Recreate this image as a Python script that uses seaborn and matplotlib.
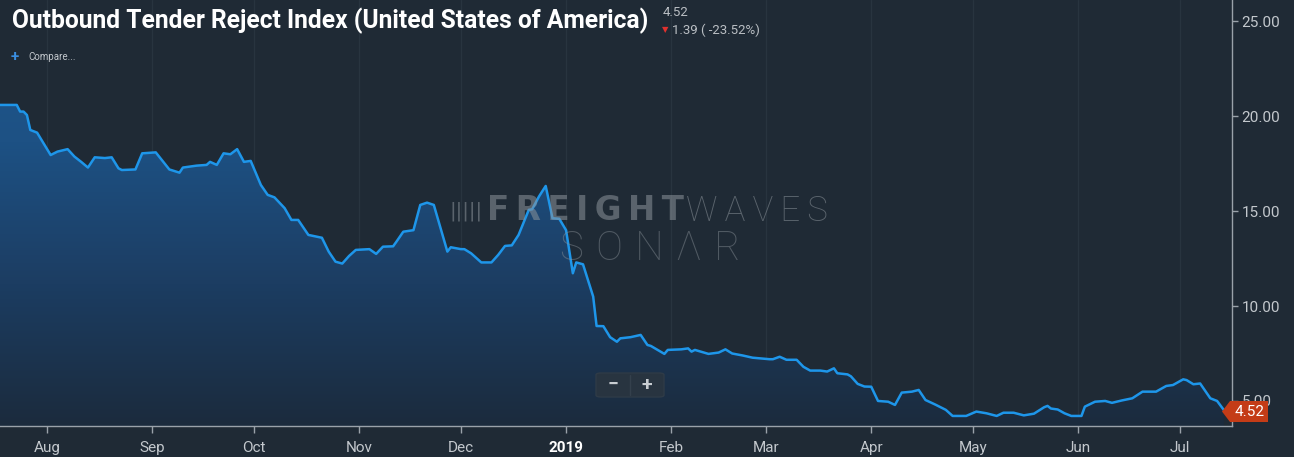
import numpy as np
import pandas as pd
import matplotlib
matplotlib.use("Agg")
import matplotlib.pyplot as plt
from matplotlib.colors import LinearSegmentedColormap
from matplotlib.patches import Polygon, FancyBboxPatch
import seaborn as sns

# values (SONAR OTRI, USA)
dates = [
    "2018-07-18", "2018-07-23", "2018-07-24", "2018-07-25", "2018-07-26", "2018-07-27",
    "2018-07-29", "2018-08-02", "2018-08-04", "2018-08-07", "2018-08-09", "2018-08-11",
    "2018-08-13", "2018-08-15", "2018-08-18", "2018-08-20", "2018-08-22", "2018-08-23",
    "2018-08-27", "2018-08-29", "2018-09-02", "2018-09-06", "2018-09-09", "2018-09-10",
    "2018-09-14", "2018-09-17", "2018-09-18", "2018-09-20", "2018-09-22", "2018-09-24",
    "2018-09-26", "2018-09-28", "2018-09-30", "2018-10-03", "2018-10-05", "2018-10-07",
    "2018-10-10", "2018-10-12", "2018-10-14", "2018-10-17", "2018-10-21", "2018-10-23",
    "2018-10-25", "2018-10-27", "2018-10-29", "2018-10-31", "2018-11-04", "2018-11-06",
    "2018-11-08", "2018-11-11", "2018-11-12", "2018-11-14", "2018-11-17", "2018-11-19",
    "2018-11-21", "2018-11-23", "2018-11-27", "2018-11-28", "2018-12-01", "2018-12-02",
    "2018-12-04", "2018-12-07", "2018-12-10", "2018-12-12", "2018-12-14", "2018-12-16",
    "2018-12-18", "2018-12-21", "2018-12-22", "2018-12-24", "2018-12-26", "2018-12-28",
    "2018-12-30", "2019-01-01", "2019-01-03", "2019-01-04", "2019-01-06", "2019-01-09",
    "2019-01-10", "2019-01-12", "2019-01-14", "2019-01-16", "2019-01-17", "2019-01-20",
    "2019-01-23", "2019-01-25", "2019-01-26", "2019-01-30", "2019-01-31", "2019-02-04",
    "2019-02-06", "2019-02-07", "2019-02-08", "2019-02-12", "2019-02-15", "2019-02-17",
    "2019-02-19", "2019-02-22", "2019-02-25", "2019-03-02", "2019-03-03", "2019-03-05",
    "2019-03-07", "2019-03-10", "2019-03-12", "2019-03-14", "2019-03-17", "2019-03-19",
    "2019-03-21", "2019-03-22", "2019-03-25", "2019-03-26", "2019-03-28", "2019-03-30",
    "2019-04-01", "2019-04-03", "2019-04-06", "2019-04-08", "2019-04-10", "2019-04-13",
    "2019-04-15", "2019-04-17", "2019-04-19", "2019-04-20", "2019-04-23", "2019-04-25",
    "2019-04-29", "2019-05-02", "2019-05-05", "2019-05-08", "2019-05-10", "2019-05-13",
    "2019-05-16", "2019-05-19", "2019-05-22", "2019-05-23", "2019-05-24", "2019-05-26",
    "2019-05-28", "2019-05-30", "2019-06-02", "2019-06-03", "2019-06-06", "2019-06-09",
    "2019-06-11", "2019-06-14", "2019-06-17", "2019-06-20", "2019-06-24", "2019-06-27",
    "2019-06-29", "2019-07-02", "2019-07-03", "2019-07-05", "2019-07-07", "2019-07-10",
    "2019-07-12", "2019-07-14",
]
otri = [
    20.6, 20.6, 20.25, 20.25, 20.07, 19.28,
    19.14, 17.96, 18.14, 18.27, 17.88, 17.6,
    17.3, 17.84, 17.8, 17.84, 17.26, 17.17,
    17.2, 18.05, 18.1, 17.2, 17.03, 17.3,
    17.4, 17.44, 17.6, 17.44, 18.05, 18.0,
    18.27, 17.6, 17.65, 16.38, 15.86, 15.73,
    15.16, 14.54, 14.54, 13.75, 13.6, 12.87,
    12.34, 12.24, 12.64, 12.96, 13.0, 12.75,
    13.13, 13.15, 13.4, 13.92, 14.0, 15.33,
    15.45, 15.33, 12.87, 13.1, 13.0, 13.0,
    12.78, 12.3, 12.3, 12.7, 13.17, 13.2,
    13.75, 15.07, 15.1, 15.77, 16.33, 14.63,
    14.6, 14.0, 11.73, 12.3, 12.2, 10.5,
    8.95, 8.94, 8.36, 8.12, 8.3, 8.36,
    8.48, 7.95, 7.9, 7.48, 7.69, 7.72,
    7.77, 7.6, 7.69, 7.48, 7.55, 7.72,
    7.5, 7.4, 7.28, 7.2, 7.2, 7.33,
    7.17, 7.17, 6.8, 6.6, 6.6, 6.55,
    6.72, 6.46, 6.4, 6.3, 5.9, 5.76,
    5.75, 5.0, 4.96, 4.79, 5.44, 5.49,
    5.58, 5.05, 4.88, 4.8, 4.53, 4.21,
    4.21, 4.44, 4.35, 4.21, 4.38, 4.38,
    4.24, 4.33, 4.67, 4.74, 4.6, 4.55,
    4.35, 4.21, 4.21, 4.7, 4.96, 5.0,
    4.9, 5.03, 5.14, 5.49, 5.49, 5.79,
    5.84, 6.14, 6.1, 5.88, 5.92, 5.14,
    5.0, 4.52,
]
month_ticks = ["2018-08-01", "2018-09-01", "2018-10-01", "2018-11-01", "2018-12-01",
               "2019-01-01", "2019-02-01", "2019-03-01", "2019-04-01", "2019-05-01",
               "2019-06-01", "2019-07-01"]
month_labels = ["Aug", "Sep", "Oct", "Nov", "Dec", "2019", "Feb", "Mar", "Apr", "May", "Jun", "Jul"]
y_ticks = [5, 10, 15, 20, 25]
last_value = 4.52
change = 1.39
change_pct = -23.52

BG = "#1f2a35"
LINE = "#1e96ea"
GRID = "#28343f"
AXIS = "#9aa2aa"
TXT = "#c3c8cd"
WM = "#8b939a"

df = pd.DataFrame({"date": pd.to_datetime(dates), "otri": otri})

sns.set_theme(style="dark")
plt.rcParams["font.family"] = ["Roboto", "DejaVu Sans"]

W, H = 1294, 457
fig = plt.figure(figsize=(W / 100, H / 100), dpi=100, facecolor=BG)
ax = fig.add_axes([0, 1 - 426 / H, 1232 / W, 426 / H])
ax.set_facecolor(BG)

xmin, xmax = pd.Timestamp("2018-07-18 01:30"), pd.Timestamp("2019-07-16 09:30")
ymin, ymax = 3.68, 26.13

sns.lineplot(data=df, x="date", y="otri", ax=ax, color=LINE, lw=1.8, zorder=4)

# gradient area under the line
poly = ax.fill_between(df.date, df.otri, ymin, facecolor="none", edgecolor="none")
cmap = LinearSegmentedColormap.from_list("fill", ["#1b2b3d", "#1c3d62", "#1d5184", "#1e588e"])
x0n, x1n = matplotlib.dates.date2num(xmin), matplotlib.dates.date2num(xmax)
grad = np.linspace(0, 1, 256).reshape(-1, 1)
im = ax.imshow(grad, cmap=cmap, aspect="auto", origin="lower",
               extent=[x0n, x1n, ymin, ymax], zorder=2)
im.set_clip_path(poly.get_paths()[0], transform=ax.transData)

ax.set_xlim(xmin, xmax)
ax.set_ylim(ymin, ymax)

tick_pos = pd.to_datetime(month_ticks)
ax.set_xticks(tick_pos)
ax.set_xticklabels(month_labels)
for lab in ax.get_xticklabels():
    if lab.get_text() == "2019":
        lab.set_color("white")
        lab.set_fontweight("bold")
    else:
        lab.set_color(TXT)
for x in tick_pos:
    ax.axvline(x, color=GRID, lw=1, zorder=1)

ax.yaxis.tick_right()
ax.set_yticks(y_ticks)
ax.set_yticklabels([f"{v:.2f}" for v in y_ticks], color=TXT)
ax.tick_params(axis="x", bottom=True, length=5, width=1, color=AXIS, labelsize=11, pad=6)
ax.tick_params(axis="y", right=True, length=4, width=1, color=AXIS, labelsize=11, pad=3)
ax.grid(False)
ax.set_xlabel("")
ax.set_ylabel("")
for side in ["left", "top"]:
    ax.spines[side].set_visible(False)
for side in ["right", "bottom"]:
    ax.spines[side].set_color(AXIS)
    ax.spines[side].set_linewidth(1)

# watermark
fig.text(449 / W, 1 - 211 / H, "|||||", fontsize=14, color=WM, alpha=0.55,
         ha="left", va="center", family=["DejaVu Sans"])
fig.text(487 / W, 1 - 211 / H, "F\u2009R\u2009E\u2009I\u2009G\u2009H\u2009T", fontsize=23.5,
         fontweight="bold", color=WM, alpha=0.55, ha="left", va="center", family=["DejaVu Sans"])
fig.text(686 / W, 1 - 211 / H, "W\u2009A\u2009V\u2009E\u2009S", fontsize=25, fontweight="light",
         color=WM, alpha=0.55, ha="left", va="center")
fig.text(650 / W, 1 - 249 / H, "S\u2009\u200aO\u2009\u200aN\u2009\u200aΛ\u2009\u200aR", fontsize=29,
         fontweight="light", color=WM, alpha=0.45, ha="center", va="center")

# last value marker on the right axis
lx, ly = 1222 / W, 1 - 411.5 / H
mk = Polygon([[lx, ly], [lx + 8 / W, ly + 10.5 / H], [lx + 46 / W, ly + 10.5 / H],
              [lx + 46 / W, ly - 10.5 / H], [lx + 8 / W, ly - 10.5 / H]],
             closed=True, transform=fig.transFigure, facecolor="#c43c17", edgecolor="none", zorder=10)
fig.patches.append(mk)
fig.text(lx + 28 / W, ly, f"{last_value:.2f}", color="white", fontsize=11, ha="center", va="center",
         zorder=11)

# zoom buttons
box = FancyBboxPatch((596 / W, 1 - 397 / H), 68 / W, 24 / H, boxstyle="round,pad=0,rounding_size=0.004",
                     transform=fig.transFigure, facecolor="#283440", edgecolor="#2f3b47", lw=1)
fig.patches.append(box)
fig.lines.append(plt.Line2D([630 / W, 630 / W], [1 - 395 / H, 1 - 375 / H], transform=fig.transFigure,
                            color="#34404c", lw=1))
fig.text(613 / W, 1 - 385 / H, "−", color="#c8cdd2", fontsize=14, fontweight="bold", ha="center", va="center")
fig.text(647 / W, 1 - 385 / H, "+", color="#c8cdd2", fontsize=14, fontweight="bold", ha="center", va="center")

# header
fig.text(12 / W, 1 - 21 / H, "Outbound Tender Reject Index (United States of America)",
         color="white", fontsize=17.7, fontweight="bold", ha="left", va="center")
fig.text(663 / W, 1 - 12 / H, f"{last_value:.2f}", color="#b9bec3", fontsize=9.5, ha="left", va="center")
fig.text(662 / W, 1 - 30 / H, "▼", color="#e0312e", fontsize=6, ha="left", va="center",
         family=["DejaVu Sans"])
fig.text(672 / W, 1 - 30 / H, f"{change:.2f} ( {change_pct:.2f}%)", color="#b9bec3", fontsize=9.5,
         ha="left", va="center")
fig.text(11 / W, 1 - 57 / H, "+", color="#3a8ee0", fontsize=11, fontweight="bold", ha="left", va="center")
fig.text(28 / W, 1 - 57 / H, "Compare...", color="#c3c8cd", fontsize=7, ha="left", va="center")

fig.savefig("out.png", dpi=100, facecolor=BG)
